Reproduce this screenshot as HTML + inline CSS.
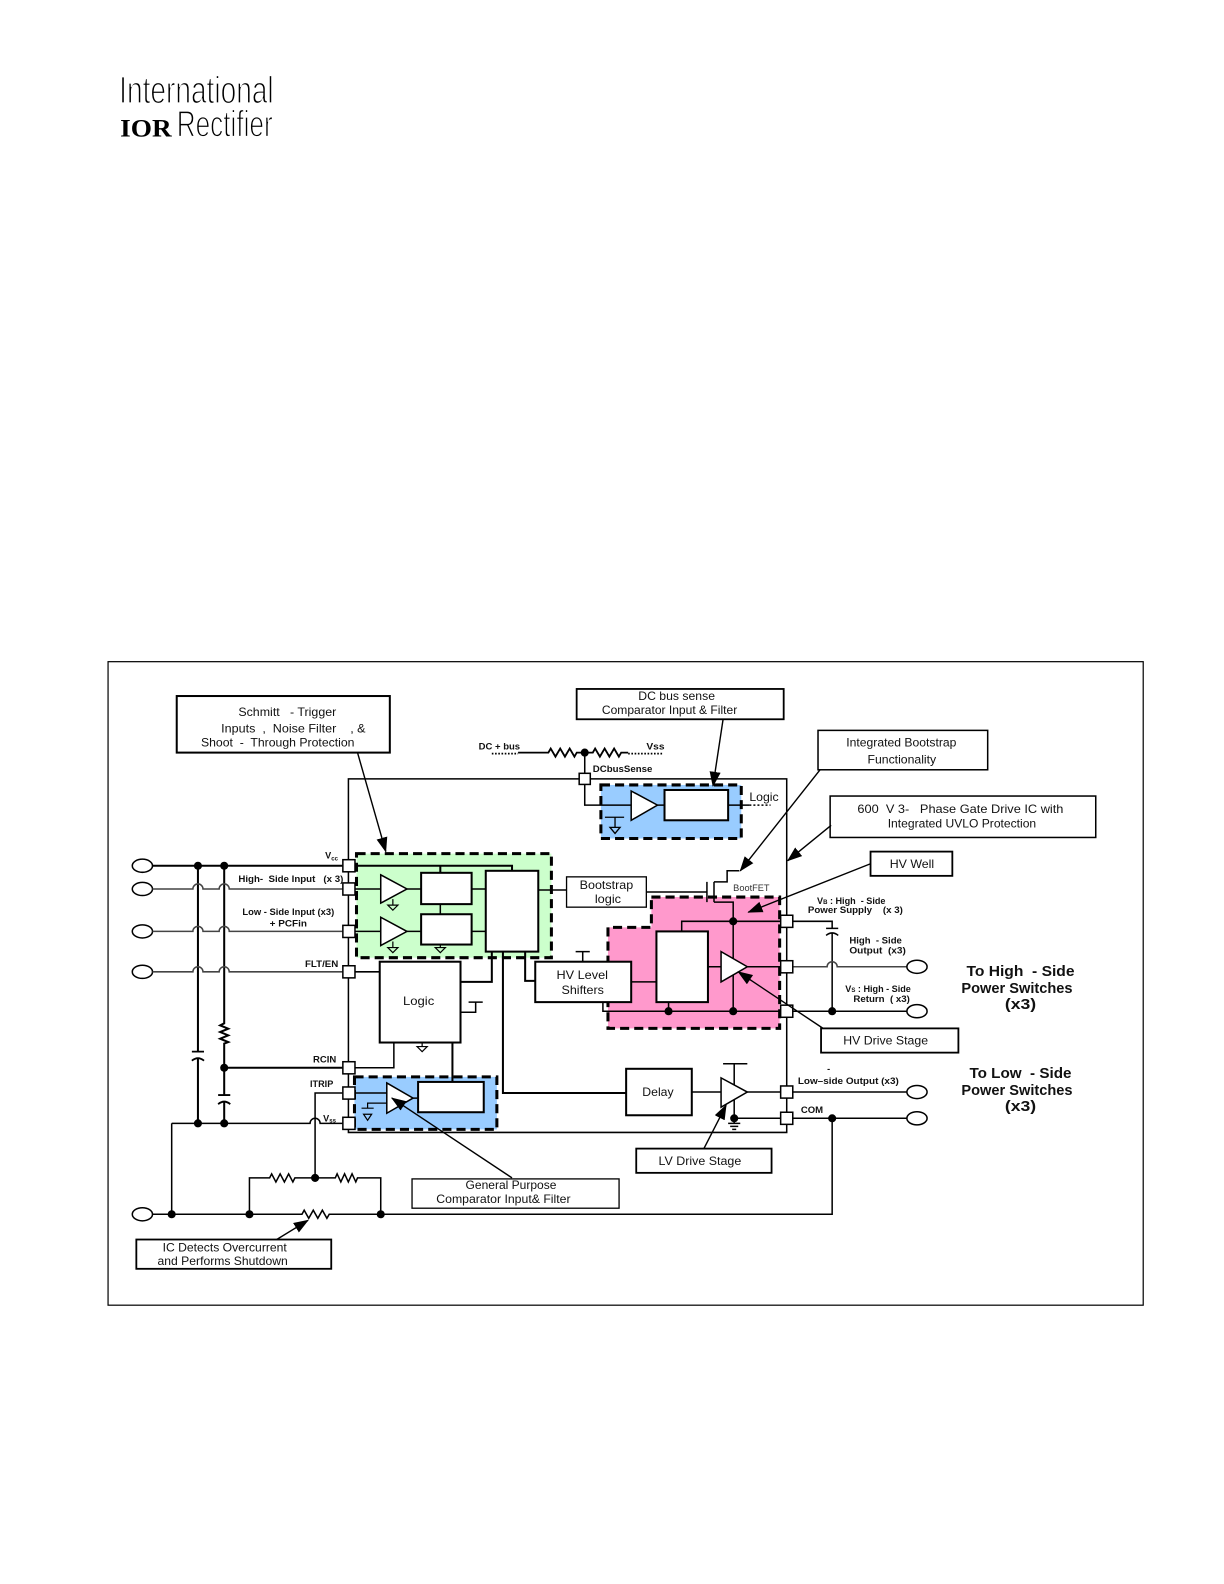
<!DOCTYPE html>
<html><head><meta charset="utf-8">
<style>
html,body{margin:0;padding:0;background:#fff;}
svg{display:block}
text{font-family:"Liberation Sans",Arial,sans-serif;white-space:pre;fill:#111;}
.b{font-weight:bold;font-size:9px;}
.l{font-size:11.5px;}
</style></head><body>
<svg width="1224" height="1584" viewBox="0 0 1212 1568" preserveAspectRatio="none" xmlns="http://www.w3.org/2000/svg">
<defs>
<marker id="ah" markerWidth="15" markerHeight="11" refX="14" refY="5.5" orient="auto" markerUnits="userSpaceOnUse"><path d="M0,0 L15,5.5 L0,11 z" fill="#000"/></marker>
</defs>

<!-- Logo -->
<text x="118" y="102" font-size="38" textLength="153" lengthAdjust="spacingAndGlyphs" stroke="#fff" stroke-width="1.3" style="fill:#000">International</text>
<text x="119" y="135" font-size="25" font-weight="bold" textLength="51" lengthAdjust="spacingAndGlyphs" style="fill:#000;font-family:'Liberation Serif',serif">IOR</text>
<text x="175" y="135" font-size="37" textLength="95" lengthAdjust="spacingAndGlyphs" stroke="#fff" stroke-width="1.3" style="fill:#000">Rectifier</text>

<!-- Frame -->
<rect x="107" y="655" width="1025" height="637" fill="none" stroke="#000" stroke-width="1.2"/>

<g fill="none" stroke="#000" stroke-width="1.5">
<!-- IC outline -->
<path d="M345,771 H779 V1121 H345 Z"/>

<!-- Green box -->
<rect x="353" y="845" width="193" height="103" fill="#ccffcc" stroke-width="3" stroke-dasharray="9 5"/>
<!-- Blue DC box -->
<rect x="595" y="777" width="139" height="53" fill="#99ccff" stroke-width="3" stroke-dasharray="9 5"/>
<!-- Blue ITRIP box -->
<rect x="351" y="1066" width="141" height="52" fill="#99ccff" stroke-width="3" stroke-dasharray="9 5"/>
<!-- Pink HV well -->
<path d="M645,888 H772 V1018 H602 V918 H645 Z" fill="#ff99cc" stroke-width="3" stroke-dasharray="9 5"/>

<!-- Left circles -->
<ellipse cx="141" cy="857" rx="10" ry="6.5"/>
<ellipse cx="141" cy="880" rx="10" ry="6.5"/>
<ellipse cx="141" cy="922" rx="10" ry="6.5"/>
<ellipse cx="141" cy="962" rx="10" ry="6.5"/>
<ellipse cx="141" cy="1202" rx="10" ry="6.5"/>

<!-- Vcc line -->
<path d="M151,857 H339" stroke-width="2"/>
<!-- Vertical buses -->
<path d="M196,857 V1041 M196,1048 V1112" stroke-width="2"/>
<path d="M190,1041 H202 M190,1050 Q196,1045 202,1050" stroke-width="1.8"/>
<path d="M222,857 V1013 l-4,2 l8,3.3 l-8,3.3 l8,3.3 l-8,3.3 l8,3.3 l-4,1.5 V1084 M222,1091 V1112" stroke-width="2"/>
<path d="M216,1084 H228 M216,1093 Q222,1088 228,1093" stroke-width="1.8"/>

<!-- Signal lines with hops -->
<g stroke="#444">
<path d="M151,880 H191 a5,5 0 0 1 10,0 H217 a5,5 0 0 1 10,0 H339"/>
<path d="M151,922 H191 a5,5 0 0 1 10,0 H217 a5,5 0 0 1 10,0 H339"/>
<path d="M151,962 H191 a5,5 0 0 1 10,0 H217 a5,5 0 0 1 10,0 H339"/>
</g>
<!-- RCIN -->
<path d="M222,1057 H339" stroke-width="2"/>
<!-- Vss -->
<path d="M170,1112 H307 a5,5 0 0 1 10,0 H339"/>
<path d="M170,1112 V1202"/>
<!-- bottom line -->
<path d="M151,1202 H299 l2.2,-4 l4.5,8 l4.5,-8 l4.5,8 l4.5,-8 l4.5,8 l2.3,-4 H824 V1107"/>
<!-- upper network -->
<path d="M247,1202 V1166 H267 l2,-4 l4.2,8 l4.2,-8 l4.2,8 l4.2,-8 l4.2,8 l2,-4 H332 l1.8,-4 l3.7,8 l3.7,-8 l3.7,8 l3.7,-8 l3.7,8 l1.7,-4 H377 V1202"/>
<path d="M312,1166 V1082 H339"/>

<!-- left pins -->
<g fill="#fff">
<rect x="339.5" y="851" width="12" height="12"/>
<rect x="339.5" y="874" width="12" height="12"/>
<rect x="339.5" y="916" width="12" height="12"/>
<rect x="339.5" y="956" width="12" height="12"/>
<rect x="339.5" y="1051" width="12" height="12"/>
<rect x="339.5" y="1076" width="12" height="12"/>
<rect x="339.5" y="1106" width="12" height="12"/>
</g>

<!-- Green internals -->
<path d="M351,857 H507 V862 M436,857 V864" stroke-width="2"/>
<path d="M351,880 H377 M403,880 H417 M436,895 V905 M351,922 H377 M403,922 H417 M467,880 H481 M467,922 H481"/>
<path d="M377,866 L403,880 L377,894 Z" fill="#fff"/>
<path d="M377,908 L403,922 L377,936 Z" fill="#fff"/>
<path d="M389,890 V896 M384,896 H394 L389,901 Z M389,932 V938 M384,938 H394 L389,943 Z M436,935 V938 M431,938 H441 L436,943 Z" stroke-width="1.2"/>
<rect x="417" y="864" width="50" height="31" fill="#fff" stroke-width="2"/>
<rect x="417" y="905" width="50" height="30" fill="#fff" stroke-width="2"/>
<rect x="481" y="862" width="52" height="80" fill="#fff" stroke-width="2"/>
<path d="M533,881 H561"/>
<path d="M487,942 V972 H456 M498,942 V1082 H620 M520,942 V971 H530" stroke-width="2"/>

<!-- Logic box -->
<rect x="376" y="952" width="80" height="80" fill="#fff" stroke-width="2"/>
<path d="M351,962 H376"/>
<path d="M456,1002 H471 V992 M464,992 H478"/>
<path d="M418,1032 V1036 M413,1036 H423 L418,1041 Z" stroke-width="1.2"/>
<path d="M448,1032 V1071" stroke-width="2"/>
<path d="M351,1057 H390 V1032"/>

<!-- ITRIP blue internals -->
<path d="M351,1082 H383 M409,1087 H414"/>
<path d="M383,1072 L409,1087 L383,1102 Z" fill="#fff"/>
<path d="M383,1092 H364 V1097 M358,1097 H370 M360,1103 H368 L364,1109 Z" stroke-width="1.2"/>
<rect x="414" y="1071" width="65" height="30" fill="#fff" stroke-width="2"/>

<!-- DC bus sense -->
<path d="M487,746 H513 M622,746 H657" stroke-dasharray="1.6 1.6" stroke-width="1.8"/>
<path d="M513,745 H543 l2.3,-4 l4.7,8 l4.7,-8 l4.7,8 l4.7,-8 l4.7,8 l2.3,-4 H587 l2.3,-4 l4.7,8 l4.7,-8 l4.7,8 l4.7,-8 l4.7,8 l2.3,-4 H622" stroke-width="1.8"/>
<path d="M579,745 V765"/>
<rect x="573.5" y="765.5" width="11" height="11" fill="#fff"/>
<path d="M579,777 V797 H625 M651,797 H658 M721,797 H742"/>
<path d="M742,797 H763" stroke-dasharray="2 2"/>
<path d="M625,783 L651,797 L625,812 Z" fill="#fff"/>
<rect x="658" y="782" width="63" height="30" fill="#fff" stroke-width="2"/>
<path d="M599,809 H618 M609,809 V819 M604,819 H614 L609,825 Z" stroke-width="1.3"/>

<!-- Bootstrap logic -->
<rect x="561" y="868" width="79" height="30" fill="#fff" stroke-width="1.3"/>
<path d="M640,883 H700 M700,873 V893 M707,873 V893 M707,873 H720 V862 H732 M707,893 H726 V1001"/>

<!-- HV level shifters -->
<path d="M597,992 V1001 H779 M577,952 V942 M570,942 H584 M625,972 H650"/>
<rect x="530" y="952" width="95" height="40" fill="#fff" stroke-width="2"/>

<!-- Pink internals -->
<path d="M675,922 V912 H779 M701,957 H714 M740,957 H779 M662,992 V1001"/>
<rect x="650" y="922" width="51" height="70" fill="#fff" stroke-width="2"/>
<path d="M714,942 L740,957 L714,972 Z" fill="#fff"/>

<!-- right side lines -->
<path d="M785,912 H824 V919 M818,919 H830 M818,926 Q824,921 830,926 M824,924 V1001"/>
<path d="M785,957 H819 a5,5 0 0 1 10,0 H898" stroke="#444"/>
<path d="M785,1001 H898"/>
<ellipse cx="908" cy="957" rx="10" ry="6.5"/>
<ellipse cx="908" cy="1001" rx="10" ry="6.5"/>
<ellipse cx="908" cy="1081" rx="10" ry="6.5"/>
<ellipse cx="908" cy="1107" rx="10" ry="6.5"/>

<!-- LV stage -->
<rect x="620" y="1058" width="65" height="46" fill="#fff" stroke-width="2"/>
<path d="M685,1081 H714 M740,1081 H779 M785,1081 H898 M727,1107 H779 M785,1107 H898"/>
<path d="M727,1053 V1074 M716,1053 H740 M727,1088 V1112 M721,1112 H733 M723,1115 H731 M725,1118 H729"/>
<path d="M714,1067 L740,1081 L714,1096 Z" fill="#fff"/>

<!-- right pins -->
<g fill="#fff">
<rect x="773" y="906" width="12" height="12"/>
<rect x="773" y="951" width="12" height="12"/>
<rect x="773" y="995" width="12" height="12"/>
<rect x="773" y="1075" width="12" height="12"/>
<rect x="773" y="1101" width="12" height="12"/>
</g>

<!-- Callout boxes -->
<rect x="175" y="689" width="211" height="56" fill="#fff" stroke-width="2"/>
<rect x="571" y="682" width="205" height="30" fill="#fff" stroke-width="1.8"/>
<rect x="810" y="723" width="168" height="39" fill="#fff" stroke-width="1.5"/>
<rect x="822" y="788" width="263" height="41" fill="#fff" stroke-width="1.5"/>
<rect x="862" y="843" width="81" height="24" fill="#fff" stroke-width="1.8"/>
<rect x="813" y="1018" width="136" height="24" fill="#fff" stroke-width="1.8"/>
<rect x="630" y="1137" width="134" height="24" fill="#fff" stroke-width="1.8"/>
<rect x="408" y="1167" width="205" height="29" fill="#fff" stroke-width="1.3"/>
<rect x="135" y="1227" width="193" height="29" fill="#fff" stroke-width="1.8"/>

<!-- Arrows -->
<g marker-end="url(#ah)" stroke-width="1.4">
<path d="M354,745 L382,843"/>
<path d="M716,712 L706,778"/>
<path d="M812,762 L733,862"/>
<path d="M823,817 L780,852"/>
<path d="M862,855 L741,903"/>
<path d="M815,1018 L731,962"/>
<path d="M697,1137 L719,1094"/>
<path d="M507,1166 L388,1087"/>
<path d="M274,1227 L305,1208"/>
</g>
</g>

<!-- Dots -->
<g fill="#000">
<circle cx="196" cy="857" r="4"/><circle cx="222" cy="857" r="4"/>
<circle cx="222" cy="1057" r="4"/>
<circle cx="196" cy="1112" r="4"/><circle cx="222" cy="1112" r="4"/>
<circle cx="170" cy="1202" r="4"/><circle cx="247" cy="1202" r="4"/><circle cx="377" cy="1202" r="4"/>
<circle cx="312" cy="1166" r="4"/>
<circle cx="579" cy="745" r="4"/>
<circle cx="726" cy="912" r="4"/>
<circle cx="662" cy="1001" r="4"/><circle cx="726" cy="1001" r="4"/>
<circle cx="824" cy="1001" r="4"/>
<circle cx="824" cy="1107" r="4"/>
<circle cx="727" cy="1107" r="4"/>
</g>

<!-- Callout texts -->
<text class="l" x="236" y="709" textLength="97" lengthAdjust="spacingAndGlyphs">Schmitt   - Trigger</text>
<text class="l" x="219" y="725" textLength="143" lengthAdjust="spacingAndGlyphs">Inputs  ,  Noise Filter    , &amp;</text>
<text class="l" x="199" y="739" textLength="152" lengthAdjust="spacingAndGlyphs">Shoot  -  Through Protection</text>

<text class="l" x="632" y="693" textLength="76" lengthAdjust="spacingAndGlyphs">DC bus sense</text>
<text class="l" x="596" y="707" textLength="134" lengthAdjust="spacingAndGlyphs">Comparator Input &amp; Filter</text>

<text class="l" x="838" y="739" textLength="109" lengthAdjust="spacingAndGlyphs">Integrated Bootstrap</text>
<text class="l" x="859" y="756" textLength="68" lengthAdjust="spacingAndGlyphs">Functionality</text>

<text class="l" x="849" y="805" textLength="204" lengthAdjust="spacingAndGlyphs">600  V 3-   Phase Gate Drive IC with</text>
<text class="l" x="879" y="819" textLength="147" lengthAdjust="spacingAndGlyphs">Integrated UVLO Protection</text>

<text class="l" x="881" y="859" textLength="44" lengthAdjust="spacingAndGlyphs">HV Well</text>
<text class="l" x="835" y="1034" textLength="84" lengthAdjust="spacingAndGlyphs">HV Drive Stage</text>
<text class="l" x="652" y="1153" textLength="82" lengthAdjust="spacingAndGlyphs">LV Drive Stage</text>
<text class="l" x="461" y="1177" textLength="90" lengthAdjust="spacingAndGlyphs">General Purpose</text>
<text class="l" x="432" y="1191" textLength="133" lengthAdjust="spacingAndGlyphs">Comparator Input&amp; Filter</text>
<text class="l" x="161" y="1239" textLength="123" lengthAdjust="spacingAndGlyphs">IC Detects Overcurrent</text>
<text class="l" x="156" y="1252" textLength="129" lengthAdjust="spacingAndGlyphs">and Performs Shutdown</text>

<text font-size="12" x="399" y="995" textLength="31" lengthAdjust="spacingAndGlyphs">Logic</text>
<text font-size="12" x="742" y="793" textLength="29" lengthAdjust="spacingAndGlyphs">Logic</text>
<text font-size="11.5" x="574" y="880" textLength="53" lengthAdjust="spacingAndGlyphs">Bootstrap</text>
<text font-size="11.5" x="589" y="894" textLength="26" lengthAdjust="spacingAndGlyphs">logic</text>
<text font-size="11.5" x="551" y="969" textLength="51" lengthAdjust="spacingAndGlyphs">HV Level</text>
<text font-size="11.5" x="556" y="984" textLength="42" lengthAdjust="spacingAndGlyphs">Shifters</text>
<text font-size="11.5" x="636" y="1085" textLength="31" lengthAdjust="spacingAndGlyphs">Delay</text>
<text font-size="9.5" x="726" y="882" textLength="36" lengthAdjust="spacingAndGlyphs" style="fill:#333">BootFET</text>

<!-- Pin labels -->
<text class="b" x="474" y="742" textLength="41" lengthAdjust="spacingAndGlyphs">DC + bus</text>
<text class="b" x="640" y="742" textLength="18" lengthAdjust="spacingAndGlyphs">Vss</text>
<text class="b" x="587" y="764" textLength="59" lengthAdjust="spacingAndGlyphs">DCbusSense</text>

<text class="b" x="322" y="850">V<tspan font-size="6" dy="2">cc</tspan></text>
<text class="b" x="236" y="873" textLength="104" lengthAdjust="spacingAndGlyphs">High-  Side Input   (x 3)</text>
<text class="b" x="240" y="906" textLength="91" lengthAdjust="spacingAndGlyphs">Low - Side Input (x3)</text>
<text class="b" x="267" y="917" textLength="37" lengthAdjust="spacingAndGlyphs">+ PCFin</text>
<text class="b" x="302" y="957" textLength="33" lengthAdjust="spacingAndGlyphs">FLT/EN</text>
<text class="b" x="310" y="1052" textLength="23" lengthAdjust="spacingAndGlyphs">RCIN</text>
<text class="b" x="307" y="1076" textLength="23" lengthAdjust="spacingAndGlyphs">ITRIP</text>
<text class="b" x="320" y="1110">V<tspan font-size="6" dy="1">ss</tspan></text>

<text class="b" x="809" y="895">V<tspan font-size="6" dy="0">B</tspan><tspan dy="0"> : High  - Side</tspan></text>
<text class="b" x="800" y="904" textLength="94" lengthAdjust="spacingAndGlyphs">Power Supply    (x 3)</text>
<text class="b" x="841" y="934" textLength="52" lengthAdjust="spacingAndGlyphs">High  - Side</text>
<text class="b" x="841" y="944" textLength="56" lengthAdjust="spacingAndGlyphs">Output  (x3)</text>
<text class="b" x="837" y="982">V<tspan font-size="6" dy="0">S</tspan><tspan dy="0"> : High - Side</tspan></text>
<text class="b" x="845" y="992" textLength="56" lengthAdjust="spacingAndGlyphs">Return  ( x3)</text>
<text class="b" x="819" y="1061">-</text>
<text class="b" x="790" y="1073" textLength="100" lengthAdjust="spacingAndGlyphs">Low–side Output (x3)</text>
<text class="b" x="793" y="1102" textLength="22" lengthAdjust="spacingAndGlyphs">COM</text>

<text font-size="15" font-weight="bold" x="957" y="966" textLength="107" lengthAdjust="spacingAndGlyphs">To High  - Side</text>
<text font-size="15" font-weight="bold" x="952" y="983" textLength="110" lengthAdjust="spacingAndGlyphs">Power Switches</text>
<text font-size="15" font-weight="bold" x="995" y="999" textLength="31" lengthAdjust="spacingAndGlyphs">(x3)</text>
<text font-size="15" font-weight="bold" x="960" y="1067" textLength="101" lengthAdjust="spacingAndGlyphs">To Low  - Side</text>
<text font-size="15" font-weight="bold" x="952" y="1084" textLength="110" lengthAdjust="spacingAndGlyphs">Power Switches</text>
<text font-size="15" font-weight="bold" x="995" y="1100" textLength="31" lengthAdjust="spacingAndGlyphs">(x3)</text>
</svg>
</body></html>
